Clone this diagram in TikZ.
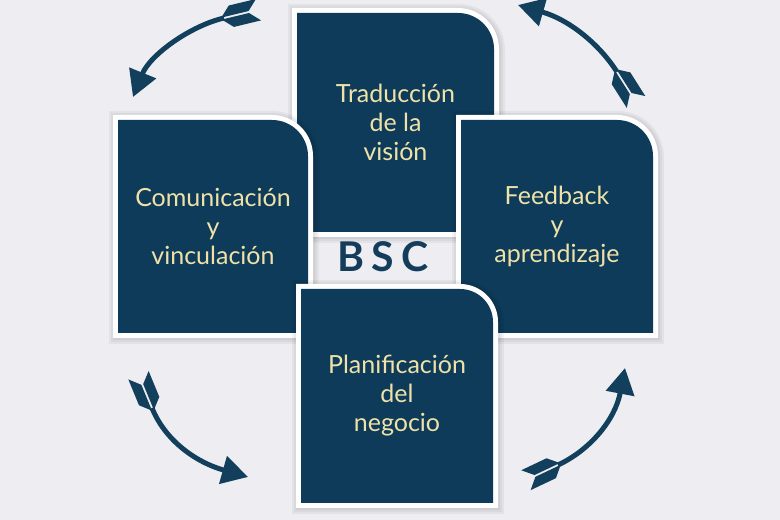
\documentclass[tikz,border=0pt]{standalone}
\usepackage{fontspec}
\setmainfont{Lato}
\usetikzlibrary{arrows.meta,decorations.markings}
\definecolor{bscbg}{HTML}{EEEEF2}
\definecolor{bscnavy}{HTML}{0E3B59}
\definecolor{bscarrow}{HTML}{123F5C}
\definecolor{bsccream}{HTML}{EFE2A8}
\definecolor{bsclabel}{HTML}{133D5B}
% #1 x-left, #2 y-bottom, #3 x-right, #4 y-top, #5 corner radius
\newcommand\bscbox[5]{%
  \foreach \k in {10,8,6,4}{%
    \fill[black,opacity=0.045] ({#1-\k+1},{#2-\k-1}) -- ({#1-\k+1},{#4+\k-1}) -- ({#3-#5+1},{#4+\k-1})
      arc[start angle=90,end angle=0,radius={#5+\k}] -- ({#3+\k+1},{#2-\k-1}) -- cycle;}
  \fill[white] ({#1-5},{#2-5}) -- ({#1-5},{#4+5}) -- ({#3-#5},{#4+5})
      arc[start angle=90,end angle=0,radius={#5+5}] -- ({#3+5},{#2-5}) -- cycle;
  \fill[bscnavy] (#1,#2) -- (#1,#4) -- ({#3-#5},#4)
      arc[start angle=90,end angle=0,radius=#5] -- (#3,#2) -- cycle;
}
\tikzset{
  boxtext/.style={text=bsccream, align=center, font=\fontsize{25}{29}\selectfont},
  cyclearrow/.style={draw=bscarrow, line width=5pt, -{Triangle[length=26pt,width=28pt]},
    postaction={decorate},
    decoration={markings, mark=at position 0.5pt with {%
      \fill[bscarrow,draw=none] (2,1) -- (-8,11) -- (-36,11) -- (-26,1) -- cycle;
      \fill[bscarrow,draw=none] (2,-1) -- (-8,-11) -- (-36,-11) -- (-26,-1) -- cycle;}}},
}
\begin{document}
\begin{tikzpicture}[x=1pt,y=1pt]
\useasboundingbox (0,0) rectangle (780,520);
\fill[bscbg] (0,0) rectangle (780,520);

\bscbox{297}{288}{494}{507}{36}
\bscbox{118}{187}{308}{400}{36}
\bscbox{461}{187}{653}{400}{36}
\bscbox{301}{17}{493}{231}{33}

\node[boxtext] (trad) at (395.5,397.5) {Traducción\\de la\\visión};
\node[boxtext] (comu) at (213,293.5) {Comunicación\\y\\vinculación};
\node[boxtext] (feed) at (557,293.5) {Feedback\\y\\aprendizaje};
\node[boxtext] (plan) at (397,124) {Planificación\\del\\negocio};
\node[text=bsclabel, font=\fontsize{41}{41}\selectfont\bfseries] (bsc) at (383,263) {B\kern7pt S\kern7pt C};

\coordinate (a1s) at (224,502); \coordinate (a1e) at (133,423);
\coordinate (a2s) at (617,448); \coordinate (a2e) at (518,515);
\coordinate (a3s) at (152,112); \coordinate (a3e) at (248,43);
\coordinate (a4s) at (558,55);  \coordinate (a4e) at (625,152);

\draw[cyclearrow] (a1s) .. controls (190,494) and (150,465) .. (a1e);
\draw[cyclearrow] (a2s) .. controls (600,475) and (570,500) .. (a2e);
\draw[cyclearrow] (a3s) .. controls (165,80) and (195,58) .. (a3e);
\draw[cyclearrow] (a4s) .. controls (590,70) and (615,100) .. (a4e);
\end{tikzpicture}
\end{document}
